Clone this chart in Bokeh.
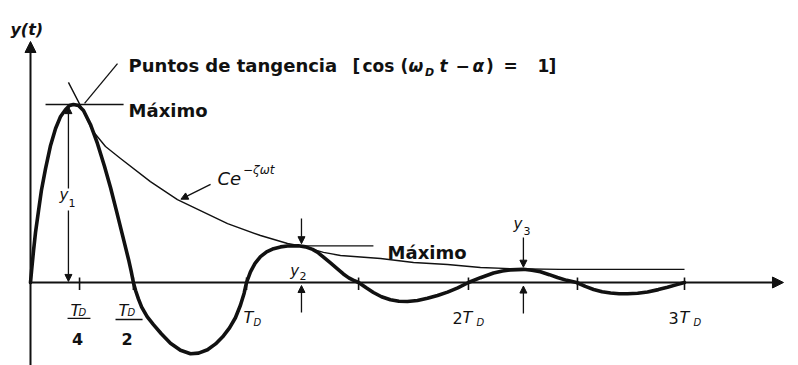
from bokeh.plotting import figure
from bokeh.models import ColumnDataSource, Arrow, NormalHead, Range1d
from bokeh.core.properties import value
from bokeh.embed import file_html
from bokeh.resources import INLINE

# Damped response y(t); t in periods T_D, y normalised so that the first peak y1 = 1
resp_t = [0.000, 0.005, 0.014, 0.023, 0.037, 0.050, 0.069, 0.092, 0.115, 0.138,
          0.161, 0.179, 0.197, 0.220, 0.243, 0.275, 0.307, 0.339, 0.367, 0.394,
          0.422, 0.450, 0.462, 0.472, 0.482, 0.495, 0.510, 0.535, 0.564, 0.600,
          0.642, 0.688, 0.734, 0.771, 0.812, 0.849, 0.885, 0.913, 0.940, 0.963,
          0.980, 0.991, 1.009, 1.030, 1.055, 1.083, 1.115, 1.147, 1.179, 1.229,
          1.262, 1.294, 1.320, 1.344, 1.376, 1.408, 1.435, 1.460, 1.480, 1.505,
          1.540, 1.573, 1.610, 1.651, 1.690, 1.729, 1.775, 1.821, 1.867, 1.913,
          1.960, 2.009, 2.064, 2.124, 2.165, 2.202, 2.261, 2.300, 2.339, 2.380,
          2.417, 2.460, 2.505, 2.545, 2.583, 2.622, 2.661, 2.700, 2.739, 2.785,
          2.830, 2.880, 2.922, 2.965, 3.000]
resp_y = [0.000, 0.067, 0.180, 0.281, 0.404, 0.517, 0.640, 0.770, 0.865, 0.933,
          0.972, 0.994, 1.000, 0.994, 0.966, 0.888, 0.781, 0.655, 0.534, 0.404,
          0.266, 0.128, 0.062, 0.000, -0.045, -0.092, -0.138, -0.192, -0.237, -0.288,
          -0.341, -0.381, -0.400, -0.397, -0.378, -0.345, -0.300, -0.255, -0.198, -0.128,
          -0.060, 0.000, 0.060, 0.108, 0.145, 0.172, 0.190, 0.200, 0.205, 0.206,
          0.200, 0.186, 0.167, 0.143, 0.110, 0.077, 0.048, 0.026, 0.013, 0.000,
          -0.030, -0.056, -0.080, -0.097, -0.105, -0.107, -0.101, -0.089, -0.073, -0.054,
          -0.030, 0.000, 0.027, 0.053, 0.065, 0.071, 0.074, 0.069, 0.060, 0.044,
          0.028, 0.012, 0.000, -0.022, -0.039, -0.052, -0.059, -0.063, -0.063, -0.060,
          -0.053, -0.040, -0.027, -0.012, 0.000]

# Envelope C e^{-zeta w t}
env_t = [0.174, 0.229, 0.284, 0.344, 0.413, 0.550, 0.674, 0.904, 1.055, 1.179,
         1.239, 1.344, 1.422, 1.606, 1.757, 1.913, 2.064, 2.216, 2.431, 3.000]
env_y = [1.124, 0.994, 0.854, 0.764, 0.697, 0.567, 0.466, 0.331, 0.264, 0.219,
         0.206, 0.169, 0.152, 0.135, 0.112, 0.101, 0.084, 0.077, 0.074, 0.074]

# Marks on the time axis
tick_t = [0.225, 0.472, 0.991, 1.505, 2.009, 2.509, 3.000]

# Successive maxima y1, y2, y3 and where their dimension arrows sit
peak_names = ["1", "2", "3"]
peak_t = [0.174, 1.243, 2.261]
peak_y = [1.000, 0.206, 0.074]

FONT = "DejaVu Sans"
INK = "#111111"

p = figure(width=798, height=365, output_backend="svg", toolbar_location=None,
           x_range=Range1d(-0.1376, 3.5229), y_range=Range1d(-0.4663, 1.5843),
           x_axis_location=None, y_axis_location=None, min_border=0)
p.outline_line_color = None
p.grid.visible = False
p.background_fill_color = "white"
p.border_fill_color = "white"

# axes with arrow heads
axis_src = ColumnDataSource(dict(x0=[0.0, 0.0], y0=[-0.4663, 0.0],
                                 x1=[0.0, 3.454], y1=[1.354, 0.0]))
p.add_layout(Arrow(source=axis_src, x_start="x0", y_start="y0", x_end="x1", y_end="y1",
                   line_color=INK, line_width=2,
                   end=NormalHead(size=11, fill_color=INK, line_color=INK)))

# ticks
p.segment(x0=tick_t, y0=[0.028] * len(tick_t), x1=tick_t, y1=[-0.042] * len(tick_t),
          line_color=INK, line_width=1.6)

# envelope and response
p.line(env_t, env_y, line_color=INK, line_width=1.4, line_join="round")
p.line(resp_t, resp_y, line_color=INK, line_width=3.6, line_join="round", line_cap="round")

# horizontal "Máximo" lines at the first two peaks
p.segment(x0=[0.069, 1.147], y0=[peak_y[0], peak_y[1]], x1=[0.427, 1.573], y1=[peak_y[0], peak_y[1]],
          line_color=INK, line_width=1.4)
# leader line to the tangency point
p.segment(x0=[0.399], y0=[1.230], x1=[0.248], y1=[1.006], line_color=INK, line_width=1.3)

# dimension arrows for y1, y2, y3 and the pointer to the envelope label
dim_src = ColumnDataSource(dict(
    x0=[peak_t[0], peak_t[0], peak_t[1], peak_t[1], peak_t[2], peak_t[2], 0.826],
    y0=[0.528, 0.404, 0.360, -0.169, 0.253, -0.174, 0.551],
    x1=[peak_t[0], peak_t[0], peak_t[1], peak_t[1], peak_t[2], peak_t[2], 0.690],
    y1=[peak_y[0] - 0.012, 0.006, peak_y[1] + 0.012, -0.017, peak_y[2] + 0.012, -0.020, 0.468],
))
p.add_layout(Arrow(source=dim_src, x_start="x0", y_start="y0", x_end="x1", y_end="y1",
                   line_color=INK, line_width=1.3,
                   end=NormalHead(size=7, fill_color=INK, line_color=INK)))

# fraction bars under T_D/4 and T_D/2
p.segment(x0=[0.170, 0.390], y0=[-0.202, -0.208], x1=[0.275, 0.514], y1=[-0.202, -0.208],
          line_color=INK, line_width=1.3)

# text pieces: x, baseline y, string, size, style
txt = [
    (-0.092, 1.421, "y(t)", "16px", "bold italic"),
    (0.450, 1.219, "Puntos de tangencia", "18px", "bold"),
    (1.477, 1.219, "[", "17px", "bold"),
    (1.523, 1.219, "cos", "17px", "bold"),
    (1.697, 1.219, "(", "17px", "bold"),
    (1.734, 1.219, "ω", "17px", "bold italic"),
    (1.810, 1.180, "D", "11px", "bold italic"),
    (1.876, 1.219, "t", "17px", "bold italic"),
    (1.950, 1.219, "−", "17px", "bold"),
    (2.028, 1.219, "α", "17px", "bold italic"),
    (2.090, 1.219, ")", "17px", "bold"),
    (2.170, 1.219, "=", "17px", "bold"),
    (2.326, 1.219, "1", "17px", "bold"),
    (2.376, 1.219, "]", "17px", "bold"),
    (0.450, 0.966, "Máximo", "18px", "bold"),
    (1.638, 0.169, "Máximo", "18px", "bold"),
    (0.858, 0.584, "C", "18px", "italic"),
    (0.915, 0.584, "e", "18px", "italic"),
    (0.975, 0.630, "−ζωt", "12px", "italic"),
    # y1, y2, y3
    (0.133, 0.494, "y", "15px", "italic"),
    (0.174, 0.444, peak_names[0], "11px", "normal"),
    (1.192, 0.067, "y", "15px", "italic"),
    (1.234, 0.039, peak_names[1], "11px", "normal"),
    (2.216, 0.326, "y", "15px", "italic"),
    (2.261, 0.292, peak_names[2], "11px", "normal"),
    # time-axis labels
    (0.183, -0.157, "T", "16px", "italic"),
    (0.220, -0.169, "D", "10px", "italic"),
    (0.190, -0.315, "4", "16px", "bold"),
    (0.404, -0.157, "T", "16px", "italic"),
    (0.445, -0.169, "D", "10px", "italic"),
    (0.418, -0.315, "2", "16px", "bold"),
    (0.977, -0.197, "T", "16px", "italic"),
    (1.023, -0.225, "D", "10px", "italic"),
    (1.936, -0.197, "2", "16px", "normal"),
    (1.982, -0.197, "T", "16px", "italic"),
    (2.046, -0.225, "D", "10px", "italic"),
    (2.927, -0.197, "3", "16px", "normal"),
    (2.977, -0.197, "T", "16px", "italic"),
    (3.041, -0.225, "D", "10px", "italic"),
]
txt_src = ColumnDataSource(dict(
    x=[r[0] for r in txt], y=[r[1] for r in txt], text=[r[2] for r in txt],
    size=[r[3] for r in txt], style=[r[4] for r in txt],
))
p.text(x="x", y="y", text="text", source=txt_src, text_font=value(FONT),
       text_font_size="size", text_font_style="style", text_color=INK,
       text_align="left", text_baseline="alphabetic")

open("out.html", "w").write(file_html(p, INLINE))
